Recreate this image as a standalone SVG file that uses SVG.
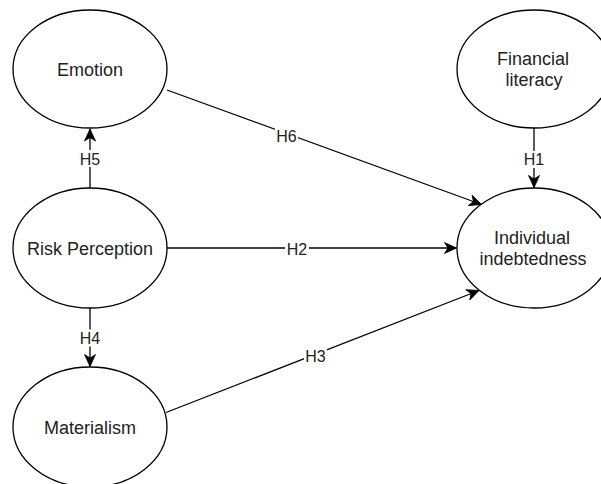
<svg xmlns="http://www.w3.org/2000/svg" width="601" height="484" viewBox="0 0 601 484">
<style>
.node ellipse{fill:#fff;stroke:#000;stroke-width:1.3}
.node text{font-family:"Liberation Sans",Arial,sans-serif;font-size:18px;fill:#222;text-anchor:middle}
.edge{fill:none;stroke:#000;stroke-width:1.3}
.lbl{font-family:"Liberation Sans",Arial,sans-serif;font-size:16px;fill:#222;text-anchor:middle}
.bg{fill:#fff}
</style>
<defs>
<marker id="arr" markerUnits="userSpaceOnUse" markerWidth="16" markerHeight="14" viewBox="-13 -7 14 14" refX="0" refY="0" orient="auto">
<path d="M0,0 L-12,-5.5 L-8.5,0 L-12,5.5 Z" fill="#000" stroke="#000" stroke-width="0.8" stroke-linejoin="miter"/>
</marker>
</defs>
<rect width="601" height="484" fill="#fff"/>
<g id="connectors">
<line class="edge" x1="90" y1="188" x2="90" y2="129" marker-end="url(#arr)"/>
<line class="edge" x1="90" y1="308" x2="90" y2="366.5" marker-end="url(#arr)"/>
<line class="edge" x1="534" y1="128" x2="534" y2="187.5" marker-end="url(#arr)"/>
<line class="edge" x1="167" y1="248" x2="456.5" y2="248" marker-end="url(#arr)"/>
<line class="edge" x1="167" y1="90" x2="481.5" y2="204.5" marker-end="url(#arr)"/>
<line class="edge" x1="166" y1="412.5" x2="479" y2="290.5" marker-end="url(#arr)"/>
<rect class="bg" x="79" y="150" width="22" height="17"/>
<text class="lbl" x="90" y="164.5">H5</text>
<rect class="bg" x="79" y="329.5" width="22" height="17"/>
<text class="lbl" x="90" y="344">H4</text>
<rect class="bg" x="523" y="151" width="22" height="17"/>
<text class="lbl" x="534" y="165">H1</text>
<rect class="bg" x="285" y="240" width="24" height="17"/>
<text class="lbl" x="297" y="254.5">H2</text>
<rect class="bg" x="275" y="127" width="23" height="17"/>
<text class="lbl" x="286.5" y="141.5">H6</text>
<rect class="bg" x="304" y="347" width="23" height="17"/>
<text class="lbl" x="315.5" y="361.5">H3</text>
</g>
<g id="emotion" class="node">
<ellipse cx="90" cy="69" rx="77" ry="59"/>
<text x="90" y="75.5">Emotion</text>
</g>
<g id="risk-perception" class="node">
<ellipse cx="90" cy="248" rx="77" ry="60"/>
<text x="90" y="254.5">Risk Perception</text>
</g>
<g id="materialism" class="node">
<ellipse cx="90" cy="427" rx="77" ry="60"/>
<text x="90" y="433.5">Materialism</text>
</g>
<g id="financial-literacy" class="node">
<ellipse cx="534" cy="69" rx="77" ry="59"/>
<text x="533" y="65">Financial</text>
<text x="534" y="85.5">literacy</text>
</g>
<g id="individual-indebtedness" class="node">
<ellipse cx="534" cy="248" rx="77" ry="60"/>
<text x="532" y="244">Individual</text>
<text x="533" y="264.5">indebtedness</text>
</g>
</svg>
